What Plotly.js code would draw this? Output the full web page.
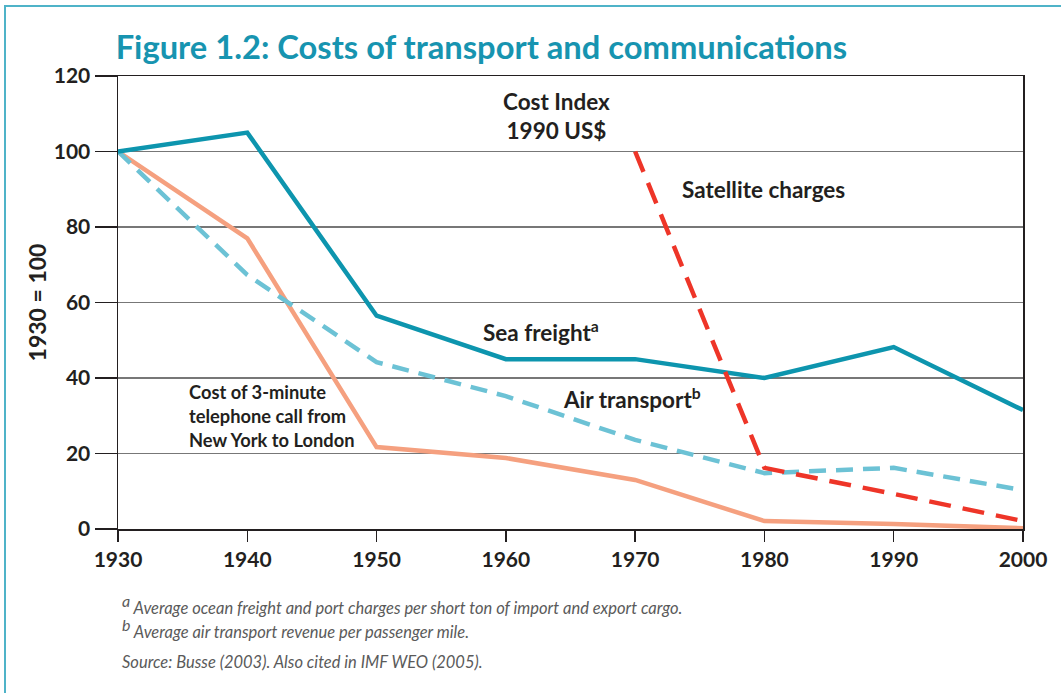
<!DOCTYPE html>
<html><head><meta charset="utf-8">
<script src="https://cdn.plot.ly/plotly-3.0.1.min.js"></script>
<style>
html,body{margin:0;padding:0;background:#fff;}
#frame{position:absolute;left:4px;top:5px;width:1100px;height:800px;border-top:2px solid #4fb3c8;border-left:2px solid #4fb3c8;}
#chart{position:absolute;left:0;top:0;width:1061px;height:693px;}
</style></head>
<body>
<div id="frame"></div>
<div id="chart"></div>
<script>
const years = [1930,1940,1950,1960,1970,1980,1990,2000];
const seaFreight = [100,105,56.5,45,45,40,48.2,31.5];
const airTransport = [100,67.3,44.2,35.2,23.6,14.8,16.2,10.3];
const telephone = [100,77,21.7,18.8,13,2.1,1.3,0.2];
const satYears = [1970,1980,1990,2000];
const satellite = [100,16.2,9.3,2.1];
const yTicks = [0,20,40,60,80,100,120];
const xTicks = [1930,1940,1950,1960,1970,1980,1990,2000];

const F = 'Lato, "Open Sans", sans-serif';
const traces = [
 {x:years,y:telephone,mode:'lines',line:{color:'#f5a07f',width:4.5},hoverinfo:'skip'},
 {x:years,y:airTransport,mode:'lines',line:{color:'#6cc2d5',width:4.5,dash:'17px,10px'},hoverinfo:'skip'},
 {x:years,y:seaFreight,mode:'lines',line:{color:'#0d95ae',width:4.5},hoverinfo:'skip'},
 {x:satYears,y:satellite,mode:'lines',line:{color:'#ee3528',width:4.5,dash:'22px,12px'},hoverinfo:'skip'}
];
const ann = (x,y,text,opt)=>Object.assign({x:x,y:y,xref:'x',yref:'y',text:text,showarrow:false,
  font:{family:F,size:22.5,color:'#231f20',weight:'bold'}},opt||{});
const foot = {family:F,size:16.5,color:'#5a5a5a',style:'italic'};
const layout = {
 width:1061,height:693,
 margin:{l:118,r:38,t:76,b:164},
 paper_bgcolor:'rgba(0,0,0,0)',plot_bgcolor:'rgba(0,0,0,0)',
 showlegend:false,
 title:{text:'Figure 1.2: Costs of transport and communications',x:0.109,xanchor:'left',y:0.932,yanchor:'middle',
   font:{family:F,size:32.7,color:'#1794b0',weight:'bold'}},
 xaxis:{range:[1930,2000],tickvals:xTicks,ticktext:xTicks.map(String),showgrid:false,zeroline:false,
   showline:true,linecolor:'#231f20',linewidth:1.5,mirror:true,ticks:'outside',ticklen:11,tickcolor:'#231f20',tickwidth:1.5,
   tickfont:{family:F,size:21,color:'#231f20',weight:'bold'},fixedrange:true},
 yaxis:{range:[0,120],tickvals:yTicks,ticktext:yTicks.map(String),showgrid:true,gridcolor:'#777',gridwidth:1.2,zeroline:false,
   showline:true,linecolor:'#231f20',linewidth:1.5,mirror:true,ticks:'outside',ticklen:22,tickcolor:'#231f20',tickwidth:1.5,
   tickfont:{family:F,size:21,color:'#231f20',weight:'bold'},
   title:{text:'1930 = 100',standoff:0,font:{family:F,size:23,color:'#231f20',weight:'bold'}},fixedrange:true},
 annotations:[
  ann(1963.9,109.4,'Cost Index<br>1990 US$',{align:'center'}),
  ann(1973.5,90,'Satellite charges',{xanchor:'left'}),
  ann(1958.1,52.4,'Sea freight<sup>a</sup>',{xanchor:'left'}),
  ann(1964.3,34.7,'Air transport<sup>b</sup>',{xanchor:'left'}),
  ann(1935.3,29.9,'Cost of 3-minute<br>telephone call from<br>New York to London',{xanchor:'left',align:'left',
     font:{family:F,size:18.3,color:'#231f20',weight:'bold'}}),
  {xref:'paper',yref:'paper',x:0.002,y:-0.167,xanchor:'left',yanchor:'middle',showarrow:false,align:'left',
   text:'<sup><span style="font-size:16px">a</span></sup> Average ocean freight and port charges per short ton of import and export cargo.',font:foot},
  {xref:'paper',yref:'paper',x:0.002,y:-0.220,xanchor:'left',yanchor:'middle',showarrow:false,align:'left',
   text:'<sup><span style="font-size:16px">b</span></sup> Average air transport revenue per passenger mile.',font:foot},
  {xref:'paper',yref:'paper',x:0.002,y:-0.294,xanchor:'left',yanchor:'middle',showarrow:false,align:'left',
   text:'Source: Busse (2003). Also cited in IMF WEO (2005).',font:foot}
 ]
};
Plotly.newPlot('chart',traces,layout,{displayModeBar:false,staticPlot:true});
</script>
</body></html>
